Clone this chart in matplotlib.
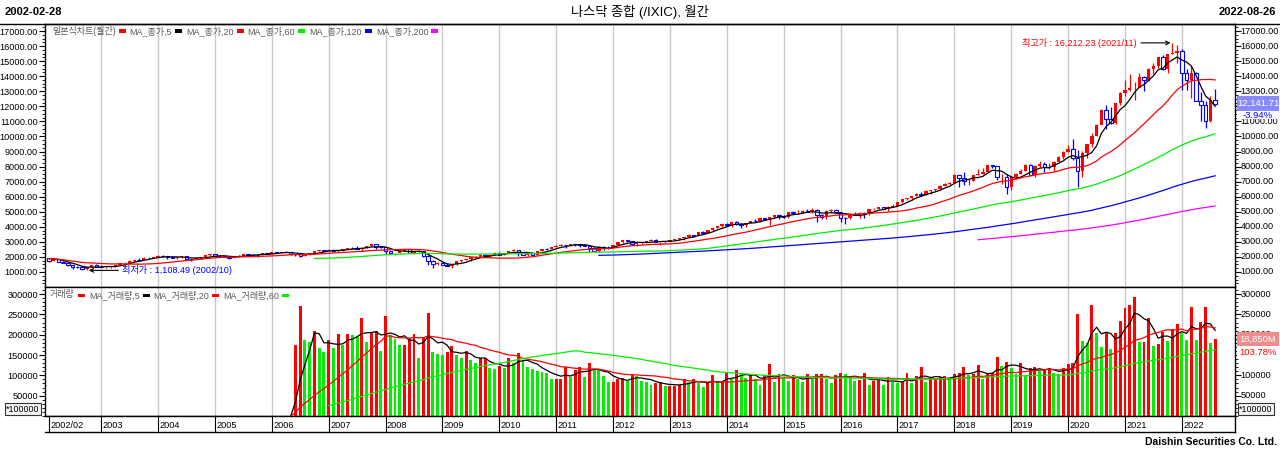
import numpy as np
import pandas as pd
import matplotlib
matplotlib.use("Agg")
import matplotlib.pyplot as plt
from matplotlib.patches import Rectangle
from matplotlib.lines import Line2D
from matplotlib.ticker import MultipleLocator, FuncFormatter

plt.rcParams['font.family'] = ['Liberation Sans', 'Noto Sans CJK KR', 'DejaVu Sans']

# monthly NASDAQ composite, 2002-02 .. 2022-08
start_month = "2002-02"
pre_closes = [1930.58, 1950.40, 1934.03]  # 2001-11 .. 2002-01, feeds the MAs
closes = [
    1731.49, 1845.35, 1688.23, 1615.73, 1463.21, 1328.26, 1314.85, 1172.06, 1329.75, 1478.78, 1335.51,
    1320.91, 1337.52, 1341.17, 1464.31, 1595.91, 1622.80, 1735.02, 1810.45, 1786.94, 1932.21, 1960.26, 2003.37,
    2066.15, 2029.82, 1994.22, 1920.15, 1986.74, 2047.79, 1887.36, 1838.10, 1896.84, 1974.99, 2096.81, 2175.44,
    2062.41, 2051.72, 1999.23, 1921.65, 2068.22, 2056.96, 2184.83, 2152.09, 2151.69, 2120.30, 2232.82, 2205.32,
    2305.82, 2281.39, 2339.79, 2322.57, 2178.88, 2172.09, 2091.47, 2183.75, 2258.43, 2366.71, 2431.77, 2415.29,
    2463.93, 2416.15, 2421.64, 2525.09, 2604.52, 2603.23, 2546.27, 2596.36, 2701.50, 2859.12, 2660.96, 2652.28,
    2389.86, 2271.48, 2279.10, 2412.80, 2522.66, 2292.98, 2325.55, 2367.52, 2091.88, 1720.95, 1535.57, 1577.03,
    1476.42, 1377.84, 1528.59, 1717.30, 1774.33, 1835.04, 1978.50, 2009.06, 2122.42, 2045.11, 2144.60, 2269.15,
    2147.35, 2238.26, 2397.96, 2461.19, 2257.04, 2109.24, 2254.70, 2114.03, 2368.62, 2507.41, 2498.23, 2652.87,
    2700.08, 2782.27, 2781.07, 2873.54, 2835.30, 2773.52, 2756.38, 2579.46, 2415.40, 2684.41, 2620.34, 2605.15,
    2813.84, 2966.89, 3091.57, 3046.36, 2827.34, 2935.05, 2939.52, 3066.96, 3116.23, 2977.23, 3010.24, 3019.51,
    3142.13, 3160.19, 3267.52, 3328.79, 3455.91, 3403.25, 3626.37, 3589.87, 3771.48, 3919.71, 4059.89, 4176.59,
    4103.88, 4308.12, 4198.99, 4114.56, 4242.62, 4408.18, 4369.77, 4580.27, 4493.39, 4630.74, 4791.63, 4736.05,
    4635.24, 4963.53, 4900.88, 4941.42, 5070.03, 4986.87, 5128.28, 4776.51, 4620.16, 5053.75, 5108.67, 5007.41,
    4613.95, 4557.95, 4869.85, 4775.36, 4948.05, 4842.67, 5162.13, 5213.22, 5312.00, 5189.14, 5323.68, 5383.12,
    5614.79, 5825.44, 5911.74, 6047.61, 6198.52, 6140.42, 6348.12, 6428.66, 6495.96, 6727.67, 6873.97, 6903.39,
    7411.48, 7273.01, 7063.45, 7066.27, 7442.12, 7510.30, 7671.79, 8109.54, 8046.35, 7305.90, 7330.54, 6635.28,
    7281.74, 7532.53, 7729.32, 8095.39, 7453.15, 8006.24, 8175.42, 7962.88, 7999.34, 8292.36, 8665.47, 8972.60,
    9150.94, 8567.37, 7700.10, 8889.55, 9489.87, 10058.77, 10745.27, 11775.46, 11167.51, 10911.59, 12198.74, 12888.28,
    13070.69, 13192.35, 13246.87, 13962.68, 13748.74, 14503.95, 14672.68, 15259.24, 14448.58, 15498.39, 15537.69, 15644.97,
    14239.88, 13751.40, 14220.52, 12334.64, 12081.39, 11028.74, 12390.69, 12141.71,
]
highs = [
    1935, 1929, 1843, 1752, 1681, 1470, 1422, 1374, 1360, 1497, 1522,
    1467, 1374, 1426, 1478, 1602, 1682, 1770, 1816, 1905, 1977, 1985, 2010,
    2153, 2113, 2055, 2080, 2003, 2067, 2058, 1880, 1946, 1990, 2118, 2185,
    2191, 2104, 2093, 2010, 2076, 2098, 2191, 2219, 2177, 2157, 2240, 2278,
    2332, 2320, 2343, 2375, 2353, 2224, 2190, 2193, 2260, 2385, 2466, 2470,
    2509, 2531, 2449, 2558, 2612, 2645, 2725, 2600, 2721, 2861, 2854, 2725,
    2662, 2419, 2293, 2427, 2552, 2550, 2336, 2474, 2392, 2111, 1780, 1664,
    1667, 1599, 1555, 1736, 1775, 1876, 1991, 2040, 2169, 2190, 2201, 2296,
    2326, 2254, 2421, 2535, 2493, 2355, 2282, 2304, 2383, 2532, 2592, 2671,
    2766, 2840, 2790, 2888, 2891, 2838, 2888, 2762, 2659, 2742, 2705, 2706,
    2815, 2992, 3135, 3110, 3077, 2943, 2986, 3085, 3196, 3171, 3021, 3043,
    3154, 3213, 3270, 3330, 3532, 3480, 3627, 3694, 3799, 3965, 4071, 4177,
    4247, 4347, 4371, 4276, 4247, 4411, 4486, 4580, 4610, 4641, 4810, 4814,
    4777, 4973, 5042, 5120, 5112, 5164, 5232, 5175, 4828, 5096, 5176, 5159,
    5003, 4646, 4897, 4960, 4961, 4970, 5176, 5272, 5343, 5331, 5400, 5487,
    5675, 5866, 5928, 6075, 6215, 6341, 6460, 6461, 6502, 6759, 6914, 7003,
    7506, 7413, 7637, 7207, 7444, 7806, 7933, 8133, 8110, 8049, 7487, 7486,
    7403, 7603, 7850, 8176, 8164, 8100, 8340, 8310, 8243, 8375, 8706, 9052,
    9451, 9838, 9070, 9013, 9523, 10222, 10840, 11838, 12074, 11965, 12229, 12973,
    13729, 14175, 13620, 14212, 13989, 14535, 14864, 15288, 15403, 15504, 16212.23, 16058,
    15832, 14510, 14646, 14283, 12946, 12320, 12681, 13181,
]
lows = [
    1696, 1725, 1673, 1589, 1375, 1192, 1241, 1165, 1108.49, 1312, 1320,
    1311, 1270, 1253, 1333, 1458, 1583, 1616, 1684, 1770, 1792, 1883, 1905,
    1999, 2006, 1896, 1918, 1878, 1959, 1853, 1750, 1833, 1879, 1974, 2092,
    2013, 2047, 1968, 1889, 1915, 2040, 2048, 2126, 2088, 2025, 2105, 2199,
    2190, 2239, 2250, 2300, 2135, 2065, 2012, 2062, 2152, 2235, 2370, 2395,
    2392, 2402, 2331, 2418, 2520, 2570, 2544, 2386, 2578, 2700, 2531, 2595,
    2202, 2260, 2155, 2259, 2397, 2278, 2178, 2314, 1984, 1493, 1295, 1433,
    1440, 1374, 1265, 1492, 1655, 1770, 1727, 1961, 1998, 2040, 2027, 2126,
    2138, 2101, 2240, 2385, 2061, 2107, 2091, 2101, 2114, 2368, 2459, 2505,
    2652, 2711, 2603, 2755, 2747, 2629, 2752, 2299, 2409, 2298, 2441, 2518,
    2630, 2787, 2949, 2988, 2775, 2727, 2843, 2921, 3042, 2966, 2810, 2956,
    3034, 3105, 3150, 3154, 3331, 3294, 3434, 3585, 3593, 3706, 3899, 3991,
    4087, 3969, 4123, 3946, 4015, 4220, 4353, 4323, 4472, 4117, 4592, 4547,
    4563, 4612, 4825, 4853, 4903, 4986, 4909, 4292, 4487, 4542, 4980, 4899,
    4314, 4210, 4514, 4764, 4595, 4575, 4800, 5140, 5153, 5178, 5035, 5311,
    5397, 5580, 5768, 5805, 6032, 6032, 6092, 6177, 6360, 6486, 6686, 6760,
    6924, 6630, 6805, 6806, 7015, 7435, 7474, 7613, 7928, 7079, 6830, 6190,
    6457, 7195, 7478, 7723, 7437, 7292, 7970, 7662, 7820, 7700, 8304, 8469,
    8944, 8436, 6631, 7288, 8553, 9326, 10002, 10817, 10520, 10822, 10846, 12060,
    12711, 13003, 12397, 13299, 12986, 13693, 14178, 14531, 14417, 14182, 15489, 14861,
    13094, 13094, 12555, 12335, 11035, 10565, 10983, 12117,
]

# volume (x100000 shares), available from 2006-06
vol_start = "2006-06"
volumes = [
    175000, 270000, 186000, 181000, 208000, 168000, 158000, 186000, 168000, 201000,
    175000, 201000, 200000, 198000, 241000, 183000, 206000, 208000, 160000, 247000,
    200000, 190000, 175000, 175000, 191000, 202000, 142000, 195000, 253000, 157000,
    153000, 150000, 158000, 172000, 150000, 142000, 160000, 139000, 130000, 142000,
    143000, 117000, 115000, 124000, 117000, 142000, 130000, 154000, 138000, 121000,
    115000, 111000, 109000, 106000, 91000, 92000, 92000, 121000, 96000, 113000,
    121000, 95000, 130000, 115000, 112000,
    99000, 84000, 84000, 90000, 94000, 86000, 102000, 99000, 86000, 82500,
    77500, 80000, 82500, 74000, 74000, 74000, 77500, 91000, 82500, 91000,
    80000, 72000, 82500, 100700, 82500, 82500, 107000, 91000, 113000, 104800,
    94000, 100700, 91000, 77500, 100700, 127000, 82500, 102300, 94000, 86000,
    100700, 91000, 82500, 102300, 91000, 102300, 102300, 91000, 80000, 100700,
    104800, 102300, 95700, 86000, 88300, 107000, 77500, 86000, 91000, 76000,
    96500, 82500, 80000, 82500, 107000, 80000,
    99000, 121300, 82500, 90800, 90800, 96500, 99000, 90800, 102300, 104800,
    121300, 100700, 102300, 125400, 90800, 102300, 104800, 146000, 123800, 133600,
    118800, 102300, 129500, 100700, 118800, 121300, 110600, 115500, 115500, 104800,
    102300, 118800, 127000, 131200, 250800, 184800, 180000, 272300, 203800, 170800,
    203800, 165000, 203800, 232700, 265600, 272300, 292000, 183200, 183200, 240900,
    173300, 176600, 207900, 184800, 214500, 226900, 203800, 187300, 268100, 187300,
    231000, 268100, 179000, 188500,
]

price_ma = [(5, '#000000'), (20, '#ff0000'), (60, '#00ee00'), (120, '#0000ff'), (200, '#ff00ff')]
vol_ma = [(5, '#000000'), (20, '#ff0000'), (60, '#00ee00')]
price_ticks = list(range(1000, 17001, 1000))
vol_ticks = list(range(50000, 300001, 50000))
price_change = "-3.94%"
vol_change = "103.78%"

months = pd.period_range(start_month, periods=len(closes), freq='M')
n = len(closes)
idx = np.arange(n)
c = np.array(closes)
o = np.array([pre_closes[-1]] + closes[:-1])
hi = np.array(highs)
lo = np.array(lows)

W, H = 1280, 453
fig = plt.figure(figsize=(12.8, 4.53), dpi=100)
fig.patch.set_facecolor('white')


def fx(x):
    return x / W


def fy(y):
    return 1 - y / H


L, R = 45, 1235
ax = fig.add_axes([fx(L), fy(287), fx(R - L), (287 - 24) / H])
axv = fig.add_axes([fx(L), fy(416), fx(R - L), (416 - 287) / H])
axb = fig.add_axes([fx(L), fy(432), fx(R - L), (432 - 416) / H])

xlim = (-0.84, 250.2)
year_pos = [i for i, m in enumerate(months) if m.month == 1]
for a in (ax, axv):
    a.set_xlim(*xlim)
    a.set_xticks([])
    for p in year_pos:
        a.axvline(p, color='#c8c8c8', lw=1.0, zorder=0)
    for s in a.spines.values():
        s.set_color('black')
        s.set_linewidth(1.0)

# candles
up = c >= o
ax.vlines(idx[up], lo[up], hi[up], color='#ff0000', lw=0.9, zorder=3)
ax.vlines(idx[~up], lo[~up], hi[~up], color='#0000ff', lw=0.9, zorder=3)
ax.bar(idx[up], (c - o)[up], bottom=o[up], width=0.72, color='#ff0000', lw=0, zorder=4)
ax.bar(idx[~up], (o - c)[~up], bottom=c[~up], width=0.72, facecolor='white',
       edgecolor='#0000ff', lw=0.8, zorder=4)

full = pd.Series(pre_closes + closes)
k = len(pre_closes)
for w, col in price_ma:
    mp = 1 if w <= 20 else w
    ma = full.rolling(w, min_periods=mp).mean().to_numpy()[k:]
    ax.plot(idx, ma, color=col, lw=0.9, zorder=5)

# volume
v0 = months.get_loc(pd.Period(vol_start, freq='M'))
vidx = np.arange(v0, v0 + len(volumes))
vol = np.array(volumes, dtype=float)
vcol = ['#ff0000' if j == 0 or vol[j] >= vol[j - 1] else '#00ee00' for j in range(len(vol))]
axv.bar(vidx, vol, width=0.62, color=vcol, lw=0, zorder=3)
vfull = pd.Series(np.concatenate([np.zeros(v0), vol]))
for w, col in vol_ma:
    ma = vfull.rolling(w).mean().to_numpy()
    s = v0 - 1 if w < 60 else v0 + 4
    axv.plot(idx[s:], ma[s:], color=col, lw=0.9, zorder=4)


def y_axis(a, lim, ticks, minor, fmt, hide_right):
    a.set_ylim(*lim)
    a.set_yticks(ticks)
    a.yaxis.set_minor_locator(MultipleLocator(minor))
    a.yaxis.set_major_formatter(FuncFormatter(lambda v, p: fmt(v)))
    a.tick_params(axis='y', which='major', left=True, right=True, labelleft=True, labelright=False,
                  labelsize=6.6, length=4, width=0.8, pad=1)
    a.tick_params(axis='y', which='minor', left=True, right=True, length=2, width=0.6)
    # right-hand labels; the ones under the last-value tags are left out
    for v in ticks:
        if v in hide_right:
            continue
        a.annotate(fmt(v), xy=(1, v), xycoords=('axes fraction', 'data'), xytext=(4, 0),
                   textcoords='offset points', ha='left', va='center', fontsize=6.6,
                   annotation_clip=False)


y_axis(ax, (4, 17465), price_ticks, 250, lambda v: f"{v:.2f}", [12000])
y_axis(axv, (0, 317400), vol_ticks, 10000, lambda v: f"{int(v)}", [150000])

# date band
axb.set_xlim(*xlim)
axb.set_ylim(0, 1)
axb.set_xticks([])
axb.set_yticks([])
axb.spines['left'].set_visible(False)
for s in axb.spines.values():
    s.set_linewidth(1.0)
band_pos = [0] + year_pos
band_lab = ["2002/02"] + [str(months[p].year) for p in year_pos]
axb.vlines(band_pos, 0, 1, color='black', lw=0.8)
for p, t in zip(band_pos, band_lab):
    axb.text(p + 0.3, 0.42, t, fontsize=6.6, ha='left', va='center')

# annotations
ih = int(np.argmax(hi))
il = int(np.argmin(lo))
ax.annotate(f"최고가 : {hi[ih]:,.2f} ({months[ih].year}/{months[ih].month:02d})",
            xy=(ih - 0.4, hi[ih]), xytext=(ih - 7.5, hi[ih]), ha='right', va='center',
            fontsize=6.6, color='#ff0000', zorder=7,
            arrowprops=dict(arrowstyle='->', color='black', lw=0.8, shrinkA=1, shrinkB=0))
ax.annotate(f"최저가 : {lo[il]:,.2f} ({months[il].year}/{months[il].month:02d})",
            xy=(il + 0.4, lo[il]), xytext=(il + 7.5, lo[il]), ha='left', va='center',
            fontsize=6.6, color='#0000ff', zorder=7,
            arrowprops=dict(arrowstyle='->', color='black', lw=0.8, shrinkA=1, shrinkB=0))

# header / footer
fig.add_artist(Line2D([0, 1], [fy(24), fy(24)], color='black', lw=1.0, transform=fig.transFigure))
fig.text(fx(5), fy(12), "2002-02-28", fontsize=8, fontweight='bold', ha='left', va='center')
fig.text(fx(1276), fy(12), "2022-08-26", fontsize=8, fontweight='bold', ha='right', va='center')
fig.text(fx(640), fy(12), "나스닥 종합 (/IXIC), 월간", fontsize=9.5, ha='center', va='center')
fig.text(fx(1277), fy(442), "Daishin Securities Co. Ltd.", fontsize=7.5, fontweight='bold',
         ha='right', va='center')

# legends
r = fig.canvas.get_renderer()


def legend_row(y, x, items):
    for label, col in items:
        t = fig.text(fx(x), fy(y), label, fontsize=6.5, color='#5a5a5a', ha='left', va='center')
        bb = t.get_window_extent(renderer=r)
        x = bb.x1 + 3
        fig.add_artist(Rectangle((fx(x), fy(y + 1.5)), fx(7), 3 / H, transform=fig.transFigure,
                                 facecolor=col, edgecolor='none'))
        x += 11


legend_row(31, 52, [("일본식차트(월간)", '#ff0000')] +
           [(f"MA_종가,{w}", col) for w, col in price_ma])
legend_row(295, 50, [("거래량", '#ff0000')] + [(f"MA_거래량,{w}", col) for w, col in vol_ma])


# last value tags, drawn over the right tick labels
def tag(y0, y1, face, text, color):
    fig.add_artist(Rectangle((fx(1237), fy(y1)), fx(42), (y1 - y0) / H, transform=fig.transFigure,
                             facecolor=face, edgecolor='none', zorder=2))
    fig.text(fx(1258), fy((y0 + y1) / 2), text, fontsize=6.8, color=color, ha='center',
             va='center', zorder=3)


tag(96, 111, '#8a8aff', f"{closes[-1]:,.2f}", 'white')
tag(111, 119, 'white', price_change, '#0000ff')
tag(332, 346, '#f08c8c', f"{volumes[-1] / 10:,.0f}M", 'white')
tag(346, 359, 'white', vol_change, '#ff0000')

for xc in (23, 1256):
    fig.text(fx(xc), fy(409), "*100000", fontsize=6.4, color='black', ha='center', va='center',
             bbox=dict(boxstyle='square,pad=0.15', facecolor='#f4f4f4', edgecolor='#333333', lw=0.8))

fig.savefig('out.png', dpi=100)
